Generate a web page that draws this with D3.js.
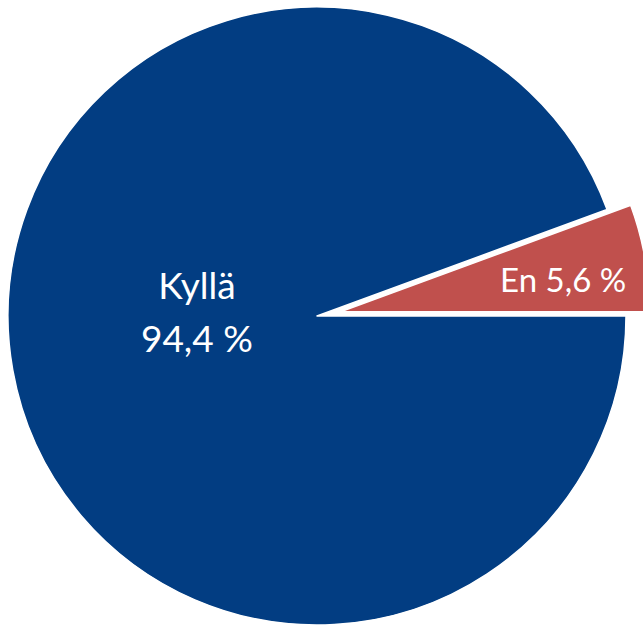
<!DOCTYPE html>
<html>
<head>
<meta charset="utf-8">
<script src="https://cdn.jsdelivr.net/npm/d3@7"></script>
<style>
  body { margin: 0; background: #fff; }
  text { font-family: Lato, "Open Sans", sans-serif; fill: #fff; }
</style>
</head>
<body>
<div id="chart"></div>
<script>
// pie slices, in drawing order (clockwise from 3 o'clock)
const categories = ["Kyllä", "En"];
const values = [94.4, 5.6];
const valueLabels = ["94,4 %", "5,6 %"];
const colors = ["#023D82", "#C0504D"];

const width = 643;
const height = 625;
const cx = 317, cy = 316;
const radius = 309;
const explode = [0, 24];

const data = categories.map((c, i) => ({ name: c, value: values[i], label: valueLabels[i], color: colors[i], off: explode[i] }));

const svg = d3.select('#chart')
    .append('svg')
    .attr('width', width)
    .attr('height', height);

const g = svg.append('g')
    .attr('transform', `translate(${cx},${cy})`);

const pie = d3.pie()
    .sort(null)
    .value(d => d.value)
    .startAngle(Math.PI / 2)
    .endAngle(Math.PI / 2 + 2 * Math.PI);

const arc = d3.arc().innerRadius(0).outerRadius(radius);
const arcs = pie(data);

// shift a slice outwards along its middle angle
function shift(d) {
    const a = (d.startAngle + d.endAngle) / 2;
    return [Math.sin(a) * d.data.off, -Math.cos(a) * d.data.off];
}

const slices = g.selectAll('g.slice')
    .data(arcs)
    .join('g')
    .attr('class', 'slice')
    .attr('transform', d => `translate(${shift(d)})`);

slices.append('path')
    .attr('d', arc)
    .attr('fill', d => d.data.color)
    .attr('stroke', '#fff')
    .attr('stroke-width', 1.5)
    .attr('stroke-linejoin', 'round');

// big slice: two-line label
const kylla = slices.filter(d => d.index === 0);
const c0 = d3.arc().innerRadius(122).outerRadius(122).centroid(arcs[0]);
kylla.append('text')
    .attr('text-anchor', 'middle')
    .attr('font-size', '37px')
    .attr('x', c0[0])
    .attr('y', c0[1] - 38)
    .text(d => d.data.name);
kylla.append('text')
    .attr('text-anchor', 'middle')
    .attr('font-size', '37px')
    .attr('x', c0[0])
    .attr('y', c0[1] + 15)
    .text(d => d.data.label);

// small slice: one-line label
const en = slices.filter(d => d.index === 1);
const c1 = d3.arc().innerRadius(226).outerRadius(226).centroid(arcs[1]);
en.append('text')
    .attr('text-anchor', 'middle')
    .attr('font-size', '33px')
    .attr('x', c1[0])
    .attr('y', c1[1] + 20)
    .text(d => `${d.data.name} ${d.data.label}`);
</script>
</body>
</html>
